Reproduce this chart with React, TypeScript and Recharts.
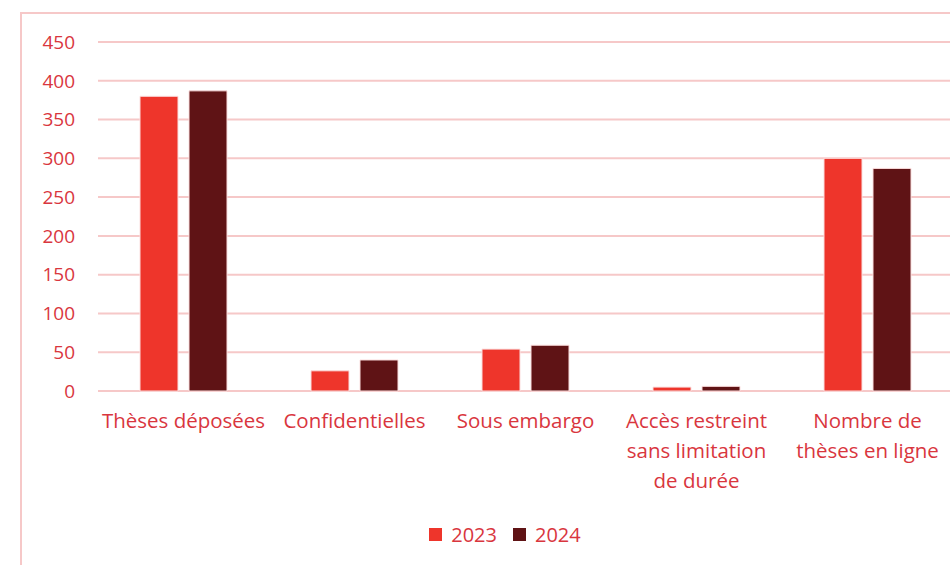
import { BarChart, Bar, XAxis, YAxis, CartesianGrid, Legend } from 'recharts';

const categories = [
  'Thèses déposées',
  'Confidentielles',
  'Sous embargo',
  'Accès restreint\nsans limitation\nde durée',
  'Nombre de\nthèses en ligne',
];
const values2023 = [380, 26, 54, 5, 300];
const values2024 = [387, 40, 59, 6, 287];
const yTicks = [0, 50, 100, 150, 200, 250, 300, 350, 400, 450];

const data = categories.map((c, i) => ({ name: c, y2023: values2023[i], y2024: values2024[i] }));

const RED = '#EE352B';
const DARK = '#5F1315';
const TEXT = '#D9363E';
const GRID = '#F6C8C8';
const FONT = '"Open Sans", sans-serif';

const CategoryTick = (props: any) => {
  const { x, y, payload } = props;
  const lines = String(payload.value).split('\n');
  return (
    <g transform={`translate(${x},${y})`}>
      {lines.map((l, i) => (
        <text key={i} x={0} y={i * 30} dy={29} textAnchor="middle" fill={TEXT} fontSize={20.5} fontFamily={FONT}>
          {l}
        </text>
      ))}
    </g>
  );
};

const LegendContent = () => (
  <div style={{ display: 'flex', justifyContent: 'center', alignItems: 'center', gap: 16, fontFamily: FONT, fontSize: 20, color: TEXT }}>
    {[['2023', RED], ['2024', DARK]].map(([label, col]) => (
      <span key={label} style={{ display: 'flex', alignItems: 'center' }}>
        <span style={{ width: 13, height: 13, background: col, display: 'inline-block', marginRight: 9 }} />
        {label}
      </span>
    ))}
  </div>
);

export default function App() {
  return (
    <div style={{ position: 'fixed', left: 0, top: 0, width: 950, height: 565, overflow: 'hidden', background: '#fff' }}>
      <div style={{ position: 'absolute', left: 20, top: 12, width: 1100, height: 700, border: `2px solid ${GRID}` }} />
      <div style={{ position: 'absolute', left: 0, top: 0 }}>
        <BarChart
          width={1010}
          height={565}
          data={data}
          margin={{ top: 42, right: 57, bottom: 0, left: 0 }}
          barGap={11}
          barSize={38}
        >
          <CartesianGrid horizontal vertical={false} stroke={GRID} strokeWidth={2} />
          <XAxis
            dataKey="name"
            axisLine={false}
            tickLine={false}
            interval={0}
            height={130}
            tick={<CategoryTick />}
          />
          <YAxis
            width={98}
            domain={[0, 450]}
            ticks={yTicks}
            axisLine={false}
            tickLine={false}
            tickSize={0}
            tickMargin={23}
            tick={{ fill: TEXT, fontSize: 19, fontFamily: FONT }}
          />
          <Legend verticalAlign="bottom" height={44} content={<LegendContent />} wrapperStyle={{ left: 0, width: 1010 }} />
          <Bar dataKey="y2023" name="2023" fill={RED} stroke="#fbdede" strokeWidth={1} isAnimationActive={false} />
          <Bar dataKey="y2024" name="2024" fill={DARK} stroke="#fbdede" strokeWidth={1} isAnimationActive={false} />
        </BarChart>
      </div>
    </div>
  );
}
